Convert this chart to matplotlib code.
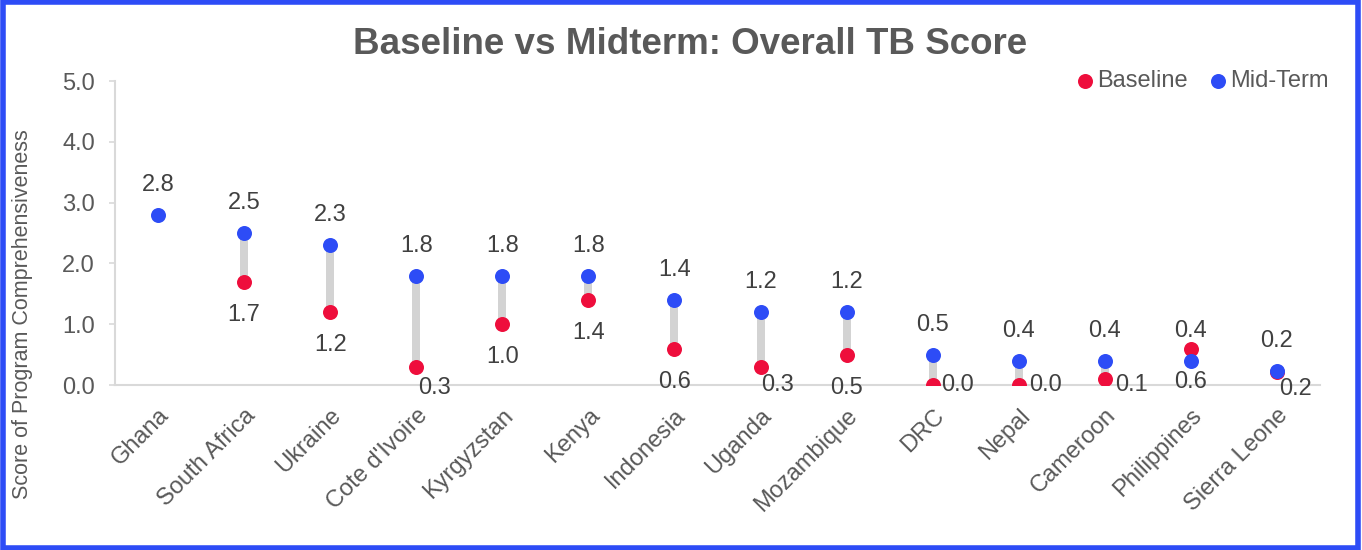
import numpy as np
import matplotlib
matplotlib.use('Agg')
from matplotlib import pyplot as plt
from matplotlib.patches import Rectangle

countries = ['Ghana', 'South Africa', 'Ukraine', "Cote d'Ivoire", 'Kyrgyzstan', 'Kenya',
             'Indonesia', 'Uganda', 'Mozambique', 'DRC', 'Nepal', 'Cameroon',
             'Philippines', 'Sierra Leone']
baseline = [np.nan, 1.7, 1.2, 0.3, 1.0, 1.4, 0.6, 0.3, 0.5, 0.0, 0.0, 0.1, 0.6, 0.22]
midterm = [2.8, 2.5, 2.3, 1.8, 1.8, 1.8, 1.4, 1.2, 1.2, 0.5, 0.4, 0.4, 0.4, 0.23]

# label offsets for baseline values (pixels, right / down), Excel pushed some sideways
base_offsets = [(0, 30), (0, 33), (0, 33), (18, 21), (0, 33), (0, 33), (0, 33),
                (17, 18), (0, 33), (25, 0), (27, 0), (27, 6), (0, 33), (19, 17)]

RED = '#EE0E3C'
BLUE = '#2D4CF6'
GREY_TXT = '#595959'
FS = 17
plt.rcParams['font.family'] = ['Liberation Sans', 'DejaVu Sans']

fig = plt.figure(figsize=(13.62, 5.5), dpi=100)
ax = fig.add_axes([115 / 1362, 1 - 385 / 550, 1205 / 1362, 304 / 550])
x = np.arange(len(countries))
px = 0.72  # points per pixel at 100 dpi

for i in x:
    if not np.isnan(baseline[i]):
        ax.plot([i, i], [baseline[i], midterm[i]], color='#D3D3D3', lw=8 * px,
                solid_capstyle='butt', zorder=1)

ax.scatter(x, baseline, s=(15 * px) ** 2, color=RED, zorder=3, label='Baseline', linewidths=0)
ax.scatter(x, midterm, s=(15 * px) ** 2, color=BLUE, zorder=4, label='Mid-Term', linewidths=0)

for i in x:
    ax.annotate(f'{midterm[i]:.1f}', (i, midterm[i]), xytext=(0, 30 * px),
                textcoords='offset points', ha='center', va='center',
                fontsize=FS, color='#404040')
    if not np.isnan(baseline[i]):
        dx, dy = base_offsets[i]
        ax.annotate(f'{baseline[i]:.1f}', (i, baseline[i]), xytext=(dx * px, -dy * px),
                    textcoords='offset points', ha='center', va='center',
                    fontsize=FS, color='#404040')

ax.set_xlim(-0.5, len(countries) - 0.5)
ax.set_ylim(0, 5)
ax.set_yticks(np.arange(0, 5.1, 1.0))
ax.set_yticklabels([f'{v:.1f}' for v in np.arange(0, 5.1, 1.0)])
ax.set_xticks(x)
ax.set_xticklabels(countries, rotation=45, ha='right', rotation_mode='anchor')

for s in ['top', 'right']:
    ax.spines[s].set_visible(False)
ax.spines['left'].set_color('#D9D9D9')
ax.spines['bottom'].set_color('#D9D9D9')
ax.spines['left'].set_linewidth(1.5)
ax.spines['bottom'].set_linewidth(1.5)
ax.tick_params(axis='y', colors='#D9D9D9', length=4.5, width=1.2, pad=10, labelsize=FS,
               labelcolor=GREY_TXT)
ax.tick_params(axis='x', length=0, pad=14, labelsize=FS, labelcolor=GREY_TXT)
ax.set_ylabel('Score of Program Comprehensiveness', fontsize=15.5, color=GREY_TXT)
ax.yaxis.set_label_coords(-82 / 1205, (385 - 314) / 304)

fig.text(0.507, 1 - 45 / 550, 'Baseline vs Midterm: Overall TB Score', ha='center', va='center',
         fontsize=26.5, fontweight='bold', color=GREY_TXT)

leg = ax.legend(loc='upper right', bbox_to_anchor=(1338 / 1362, 1 - 61 / 550),
                bbox_transform=fig.transFigure, ncol=2, frameon=False, fontsize=FS,
                handletextpad=0.0, columnspacing=0.8, markerscale=1.0,
                borderaxespad=0, handlelength=1.0)
for t in leg.get_texts():
    t.set_color(GREY_TXT)

fig.patches.append(Rectangle((0.002, 0.004), 0.995, 0.992, transform=fig.transFigure,
                             fill=False, edgecolor=BLUE, lw=4))

fig.savefig('out.png', dpi=100)
